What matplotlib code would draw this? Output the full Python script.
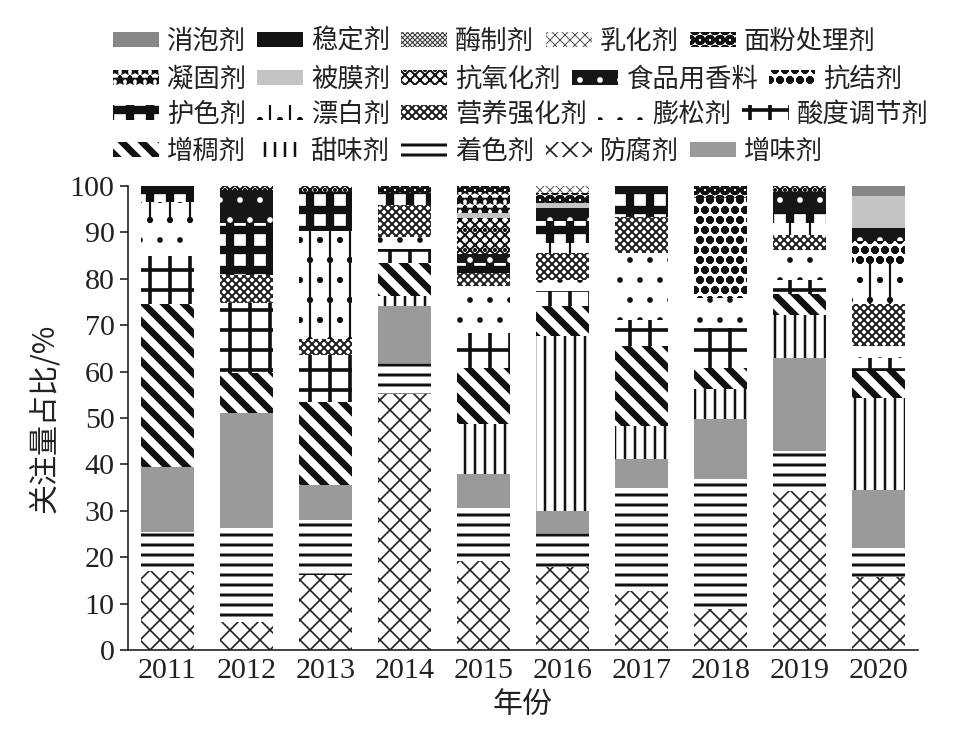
import matplotlib
matplotlib.use('Agg')
import matplotlib.pyplot as plt
import matplotlib.patches as mpatches
import numpy as np

# ---------------- data ----------------
years = ['2011', '2012', '2013', '2014', '2015', '2016', '2017', '2018', '2019', '2020']

# series, listed from the bottom of each stack to its top (values in %)
fangfu     = [17.0, 6.0, 16.2, 55.1, 19.2, 17.8, 12.8, 8.9, 34.3, 15.7]   # 防腐剂
zhuose     = [8.5, 20.3, 11.8, 6.7, 11.4, 7.5, 22.2, 27.9, 8.5, 6.3]      # 着色剂
zengwei    = [14.0, 24.8, 7.6, 12.3, 7.4, 4.7, 6.1, 12.9, 20.2, 12.5]     # 增味剂
tianwei    = [0.0, 0.0, 0.0, 2.2, 10.7, 37.6, 7.2, 6.5, 9.3, 19.9]        # 甜味剂
zengchou   = [35.0, 8.7, 17.9, 7.2, 12.1, 6.5, 17.2, 4.6, 4.5, 5.7]       # 增稠剂
suandu     = [10.5, 15.0, 10.0, 3.0, 7.5, 3.2, 5.7, 8.7, 3.0, 2.9]        # 酸度调节剂
pengsong   = [7.0, 0.0, 0.0, 2.5, 10.1, 2.5, 14.3, 6.4, 6.5, 2.5]         # 膨松剂
yingyang   = [0.0, 6.1, 3.5, 6.8, 2.8, 5.7, 7.9, 0.0, 3.2, 9.0]           # 营养强化剂
piaobai    = [4.5, 0.0, 23.2, 0.0, 0.0, 2.2, 0.0, 0.0, 2.5, 8.6]          # 漂白剂
husea      = [3.5, 11.1, 8.6, 2.7, 2.3, 4.7, 5.1, 0.0, 2.5, 0.0]          # 护色剂
kangjie    = [0.0, 0.0, 0.0, 0.0, 0.0, 0.0, 0.0, 21.5, 0.0, 5.0]          # 抗结剂
xiangliao  = [0.0, 7.2, 0.0, 0.0, 1.8, 2.8, 0.0, 0.0, 4.3, 2.9]           # 食品用香料
kangyang   = [0.0, 0.8, 1.2, 0.0, 7.8, 0.0, 0.0, 0.0, 1.2, 0.0]           # 抗氧化剂
beimo      = [0.0, 0.0, 0.0, 0.0, 1.1, 1.1, 0.0, 0.0, 0.0, 6.8]           # 被膜剂
ninggu     = [0.0, 0.0, 0.0, 0.0, 4.6, 0.0, 0.0, 0.0, 0.0, 0.0]           # 凝固剂
mianfen    = [0.0, 0.0, 0.0, 1.5, 1.2, 2.2, 0.0, 2.6, 0.0, 0.0]           # 面粉处理剂
ruhua      = [0.0, 0.0, 0.0, 0.0, 0.0, 1.5, 0.0, 0.0, 0.0, 0.0]           # 乳化剂
meizhi     = [0.0, 0.0, 0.0, 0.0, 0.0, 0.0, 0.0, 0.0, 0.0, 0.0]           # 酶制剂
wending    = [0.0, 0.0, 0.0, 0.0, 0.0, 0.0, 1.5, 0.0, 0.0, 0.0]           # 稳定剂
xiaopao    = [0.0, 0.0, 0.0, 0.0, 0.0, 0.0, 0.0, 0.0, 0.0, 2.2]           # 消泡剂

stack_names = ['防腐剂', '着色剂', '增味剂', '甜味剂', '增稠剂', '酸度调节剂', '膨松剂',
               '营养强化剂', '漂白剂', '护色剂', '抗结剂', '食品用香料', '抗氧化剂',
               '被膜剂', '凝固剂', '面粉处理剂', '乳化剂', '酶制剂', '稳定剂', '消泡剂']
stack_values = [fangfu, zhuose, zengwei, tianwei, zengchou, suandu, pengsong,
                yingyang, piaobai, husea, kangjie, xiangliao, kangyang,
                beimo, ninggu, mianfen, ruhua, meizhi, wending, xiaopao]

legend_rows = [
    ['消泡剂', '稳定剂', '酶制剂', '乳化剂', '面粉处理剂'],
    ['凝固剂', '被膜剂', '抗氧化剂', '食品用香料', '抗结剂'],
    ['护色剂', '漂白剂', '营养强化剂', '膨松剂', '酸度调节剂'],
    ['增稠剂', '甜味剂', '着色剂', '防腐剂', '增味剂'],
]

# ---------------- styles ----------------
# face colour, hatch colour, hatch pattern, hatch line width
styles = {
    '消泡剂':     ('#878787', '#6a6a6a', None, 0.5),
    '稳定剂':     ('#141414', '#141414', None, 0.5),
    '酶制剂':     ('white', '#444444', 'xxxxxxxx', 0.7),
    '乳化剂':     ('white', '#555555', 'xxxx', 0.6),
    '面粉处理剂': ('white', '#111111', 'OO', 2.0),
    '凝固剂':     ('white', '#111111', '**', 1.6),
    '被膜剂':     ('#c4c4c4', '#c4c4c4', None, 0.5),
    '抗氧化剂':   ('white', '#111111', 'xxxx..', 1.2),
    '食品用香料': ('#161616', 'white', '.', 1.0),
    '抗结剂':     ('white', '#111111', 'oo', 2.2),
    '护色剂':     ('white', '#111111', '+', 5.0),
    '漂白剂':     ('white', '#111111', '|.', 1.3),
    '营养强化剂': ('white', '#222222', 'xxxxx', 1.2),
    '膨松剂':     ('white', '#111111', '.', 1.0),
    '酸度调节剂': ('white', '#111111', '+', 2.2),
    '增稠剂':     ('white', '#111111', '\\\\', 4.0),
    '甜味剂':     ('white', '#111111', '||', 1.5),
    '着色剂':     ('white', '#111111', '--', 1.8),
    '防腐剂':     ('white', '#222222', 'xx', 1.0),
    '增味剂':     ('#9a9a9a', '#9a9a9a', None, 0.5),
}

DPI = 120
fig = plt.figure(figsize=(965 / DPI, 749 / DPI), dpi=DPI)
ax = fig.add_axes([128 / 965, 1 - 650 / 749, 790 / 965, 464 / 749])

x = np.arange(len(years))
bottom = np.zeros(len(years))
for name, vals in zip(stack_names, stack_values):
    face, hcol, hatch, hlw = styles[name]
    vals = np.asarray(vals, dtype=float)
    with plt.rc_context({'hatch.linewidth': hlw}):
        bars = ax.bar(x, vals, width=0.66, bottom=bottom, facecolor=face,
                      edgecolor=hcol, hatch=hatch, linewidth=0)
    for p in bars.patches:
        if hasattr(p, 'set_hatch_linewidth'):
            p.set_hatch_linewidth(hlw)
    bottom += vals

ax.set_xlim(-0.5, 9.5)
ax.set_ylim(0, 100)
ax.set_yticks(np.arange(0, 101, 10))
ax.set_xticks(x)
ax.set_xticklabels(years)
for s in ['top', 'right']:
    ax.spines[s].set_visible(False)
for s in ['left', 'bottom']:
    ax.spines[s].set_linewidth(1.0)
    ax.spines[s].set_color('#222222')
ax.tick_params(axis='y', direction='out', length=5, width=1.0, labelsize=18, pad=3,
               colors='#222222')
ax.tick_params(axis='x', length=0, labelsize=18, pad=5, colors='#222222')
for lab in ax.get_xticklabels() + ax.get_yticklabels():
    lab.set_fontfamily('Liberation Serif')

cjk = ['Noto Sans CJK SC', 'DejaVu Sans']
ax.set_ylabel('关注量占比/%', fontsize=18, family=cjk, labelpad=6, color='#222222')
ax.set_xlabel('年份', fontsize=18, family=cjk, labelpad=3, color='#222222')

# legend rows (each row flows independently, like the original)
row_y = [41, 79, 114, 151]
for names, yy in zip(legend_rows, row_y):
    handles = []
    for n in names:
        face, hcol, hatch, hlw = styles[n]
        handles.append(mpatches.Patch(facecolor=face, edgecolor=hcol, hatch=hatch,
                                      linewidth=0))
    leg = fig.legend(handles, names, loc='center left',
                     bbox_to_anchor=(113 / 965, 1 - yy / 749), ncol=5,
                     frameon=False, borderpad=0, borderaxespad=0,
                     handlelength=1.75, handleheight=0.5, handletextpad=0.3,
                     columnspacing=0.42, prop={'family': cjk, 'size': 15.8})
    for p, n in zip(leg.get_patches(), names):
        if hasattr(p, 'set_hatch_linewidth'):
            p.set_hatch_linewidth(styles[n][3])
    for t in leg.get_texts():
        t.set_color('#222222')

fig.savefig('out.png', dpi=DPI)
